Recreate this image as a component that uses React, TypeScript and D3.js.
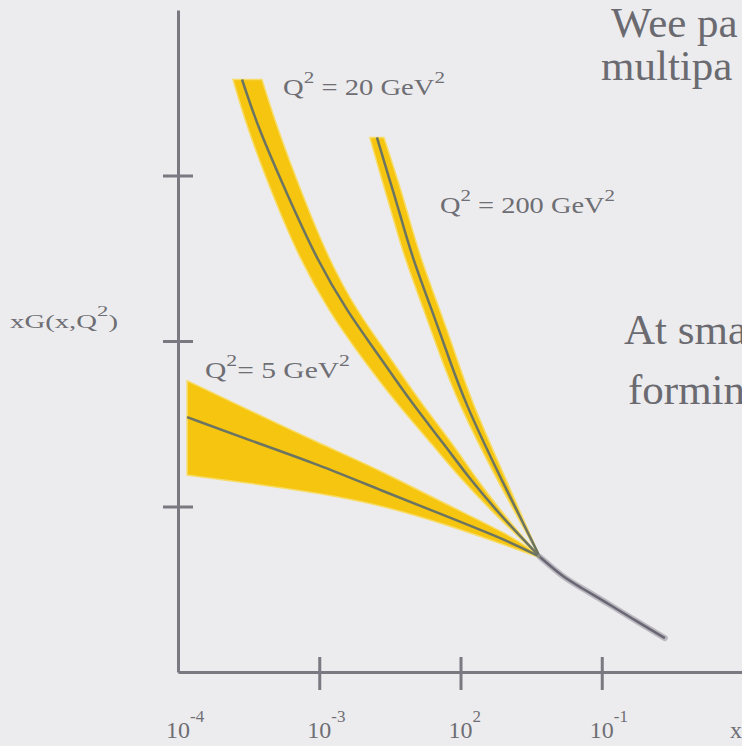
import { useEffect, useRef } from 'react';
import * as d3 from 'd3';

const W = 742;
const H = 746;

// Q² = 5 GeV²: central curve and error band share the same x points
const q5X = [1.16e-4, 3.23e-4, 1.01e-3, 2.69e-3, 8.02e-3, 2.35e-2, 3.65e-2];
const q5Mid = [1.54, 1.4, 1.25, 1.1, 0.94, 0.78, 0.695];
const q5Hi = [1.76, 1.58, 1.38, 1.22, 1.01, 0.82, 0.7];
const q5Lo = [1.19, 1.14, 1.08, 1.01, 0.89, 0.75, 0.69];

// Q² = 20 GeV² (band edges given as x shifts at the same heights)
const q20X = [2.84e-4, 3.68e-4, 5.9e-4, 9.63e-4, 1.6e-3, 2.56e-3, 4.38e-3, 7.76e-3, 1.13e-2, 1.9e-2, 3.65e-2];
const q20Mid = [3.58, 3.29, 2.89, 2.49, 2.17, 1.93, 1.64, 1.37, 1.18, 0.95, 0.695];
const q20LeftX = [2.45e-4, 3.08e-4, 4.63e-4, 7.3e-4, 1.19e-3, 1.88e-3, 3.38e-3, 6.38e-3, 9.74e-3, 1.75e-2, 3.65e-2];
const q20RightX = [3.93e-4, 5.02e-4, 7.54e-4, 1.17e-3, 1.88e-3, 3.01e-3, 5.08e-3, 8.98e-3, 1.26e-2, 2.03e-2, 3.65e-2];

// Q² = 200 GeV²
const q200X = [2.56e-3, 3.16e-3, 3.72e-3, 4.53e-3, 6.38e-3, 8.02e-3, 1.07e-2, 1.9e-2, 3.65e-2];
const q200Mid = [3.23, 2.97, 2.77, 2.51, 2.17, 1.93, 1.63, 1.18, 0.695];
const q200LeftX = [2.28e-3, 2.78e-3, 3.27e-3, 3.98e-3, 5.6e-3, 7.03e-3, 9.58e-3, 1.75e-2, 3.65e-2];
const q200RightX = [2.87e-3, 3.61e-3, 4.24e-3, 5.16e-3, 7.27e-3, 9.13e-3, 1.2e-2, 2.06e-2, 3.65e-2];

// common large-x tail
const tailX = [3.65e-2, 5.31e-2, 7.0e-2, 0.1087, 0.158, 0.28];
const tailY = [0.695, 0.574, 0.514, 0.417, 0.332, 0.205];

const xTicks = [1e-4, 1e-3, 1e-2, 1e-1];
const xTickExp = ['-4', '-3', '2', '-1'];
const yTicks = [1, 2, 3];

const zip = (xs, ys) => xs.map((v, i) => [v, ys[i]]);

function GluonChart() {
  const svgRef = useRef(null);
  const mountedRef = useRef(false);

  useEffect(() => {
    if (mountedRef.current) return;
    const svg = d3.select(svgRef.current);

    const x = d3.scaleLog().domain([1e-4, 1]).range([178, 743]);
    const y = d3.scaleLinear().domain([0, 4]).range([672, 10]);

    const axisColor = '#7a7880';
    const lineColor = '#6c7462';
    const bandColor = '#f5c510';
    const bandEdge = '#f7dc68';

    svg.append('rect').attr('width', W).attr('height', H).attr('fill', '#ececee');

    // basis curve smooths the hand-read points a little
    const line = d3
      .line()
      .x((d) => x(d[0]))
      .y((d) => y(d[1]))
      .curve(d3.curveBasis);

    const band = (upper, lower) =>
      line(upper) + line(lower.slice().reverse()).replace('M', 'L') + 'Z';

    const area = d3
      .area()
      .x((d) => x(d[0]))
      .y0((d) => y(d[1]))
      .y1((d) => y(d[2]))
      .curve(d3.curveBasis);

    // bands
    svg
      .append('path')
      .attr('d', area(q5X.map((v, i) => [v, q5Lo[i], q5Hi[i]])))
      .attr('fill', bandColor)
      .attr('stroke', bandEdge)
      .attr('stroke-width', 1.5);

    svg
      .append('path')
      .attr('d', band(zip(q20RightX, q20Mid), zip(q20LeftX, q20Mid)))
      .attr('fill', bandColor)
      .attr('stroke', bandEdge)
      .attr('stroke-width', 1.5);

    svg
      .append('path')
      .attr('d', band(zip(q200RightX, q200Mid), zip(q200LeftX, q200Mid)))
      .attr('fill', bandColor)
      .attr('stroke', bandEdge)
      .attr('stroke-width', 1.5);

    // central curves
    [zip(q5X, q5Mid), zip(q20X, q20Mid), zip(q200X, q200Mid)].forEach((pts) => {
      svg
        .append('path')
        .attr('d', line(pts))
        .attr('fill', 'none')
        .attr('stroke', lineColor)
        .attr('stroke-width', 2.5);
    });

    svg
      .append('path')
      .attr('d', line(zip(tailX, tailY)))
      .attr('fill', 'none')
      .attr('stroke', '#9a98a0')
      .attr('stroke-width', 6)
      .attr('stroke-linecap', 'round')
      .attr('opacity', 0.6);
    svg
      .append('path')
      .attr('d', line(zip(tailX, tailY)))
      .attr('fill', 'none')
      .attr('stroke', '#6a6674')
      .attr('stroke-width', 2.5);

    // axes
    const yAxis = svg
      .append('g')
      .attr('transform', `translate(${x(1e-4)},0)`)
      .call(d3.axisLeft(y).tickValues(yTicks).tickSize(15).tickSizeOuter(0).tickFormat(() => ''));
    yAxis.selectAll('.tick line').attr('x1', 15);

    const xAxis = svg
      .append('g')
      .attr('transform', `translate(0,${y(0)})`)
      .call(
        d3
          .axisBottom(x)
          .tickValues(xTicks.slice(1))
          .tickSize(18)
          .tickSizeOuter(0)
          .tickFormat(() => '')
      );
    xAxis.selectAll('.tick line').attr('y1', -15);

    [yAxis, xAxis].forEach((ax) => {
      ax.selectAll('line, path').attr('stroke', axisColor).attr('stroke-width', 3);
    });

    // tick labels
    const lbl = svg
      .append('g')
      .attr('font-family', 'Liberation Serif, serif')
      .attr('fill', '#6e6e74');
    xTicks.forEach((t, i) => {
      const tx = lbl
        .append('text')
        .attr('x', x(t) - 12)
        .attr('y', 738)
        .attr('font-size', 24);
      tx.append('tspan').text('10');
      tx.append('tspan').attr('dy', -16).attr('font-size', 17).text(xTickExp[i]);
    });
    lbl.append('text').attr('x', 730).attr('y', 738).attr('font-size', 24).text('x');

    // y label
    const yl = lbl
      .append('text')
      .attr('x', 10)
      .attr('y', 328)
      .attr('font-size', 19)
      .attr('textLength', 108)
      .attr('lengthAdjust', 'spacingAndGlyphs');
    yl.append('tspan').text('xG(x,Q');
    yl.append('tspan').attr('dy', -12).attr('font-size', 15).text('2');
    yl.append('tspan').attr('dy', 12).text(')');

    // curve labels
    const qLabel = (lx, ly, len, rest) => {
      const t = lbl
        .append('text')
        .attr('x', lx)
        .attr('y', ly)
        .attr('font-size', 23)
        .attr('textLength', len)
        .attr('lengthAdjust', 'spacingAndGlyphs');
      t.append('tspan').text('Q');
      t.append('tspan').attr('dy', -12).attr('font-size', 17).text('2');
      t.append('tspan').attr('dy', 12).text(rest);
      t.append('tspan').attr('dy', -12).attr('font-size', 17).text('2');
    };
    qLabel(283, 95, 162, ' = 20 GeV');
    qLabel(440, 213, 175, ' = 200 GeV');
    qLabel(205, 378, 145, '= 5 GeV');

    // slide text running off the right edge
    const side = svg
      .append('g')
      .attr('font-family', 'Liberation Serif, serif')
      .attr('font-size', 43)
      .attr('fill', '#6a6a70');
    side.append('text').attr('x', 611).attr('y', 37).text('Wee pa');
    side.append('text').attr('x', 601).attr('y', 80).text('multipa');
    side.append('text').attr('x', 624).attr('y', 344).text('At sma');
    side.append('text').attr('x', 628).attr('y', 404).text('formin');

    mountedRef.current = true;
  }, []);

  return (
    <svg
      ref={svgRef}
      width={W}
      height={H}
      style={{ position: 'absolute', left: 0, top: 0, display: 'block' }}
    />
  );
}

export default function App() {
  return <GluonChart />;
}
